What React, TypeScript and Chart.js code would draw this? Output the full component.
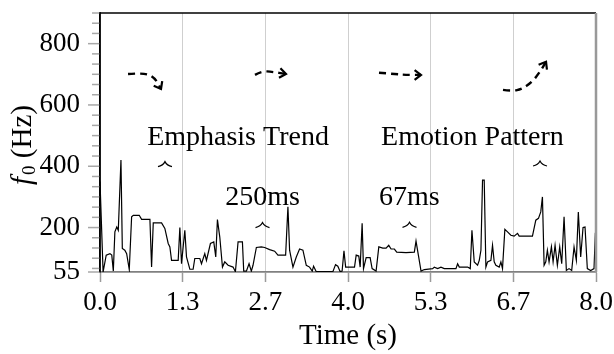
import React, { useEffect, useRef } from 'react';
import { Chart, registerables } from 'chart.js';
Chart.register(...registerables);

// ---- data ----
const timeS = [
  0.00, 0.05, 0.10, 0.16, 0.19, 0.215, 0.24, 0.27, 0.295, 0.338,
  0.36, 0.40, 0.43, 0.472, 0.51, 0.537, 0.633, 0.671, 0.805, 0.832,
  0.859, 0.993, 1.046, 1.100, 1.127, 1.154, 1.261, 1.288, 1.315, 1.368,
  1.395, 1.449, 1.502, 1.529, 1.610, 1.637, 1.690, 1.717, 1.781, 1.835,
  1.867, 1.894, 1.932, 1.975, 2.012, 2.066, 2.146, 2.184, 2.227, 2.297,
  2.318, 2.361, 2.404, 2.441, 2.468, 2.522, 2.602, 2.656, 2.736, 2.817,
  2.870, 2.994, 3.031, 3.058, 3.112, 3.166, 3.219, 3.273, 3.327, 3.380,
  3.423, 3.445, 3.488, 3.756, 3.799, 3.836, 3.874, 3.905, 3.935, 3.962,
  4.105, 4.132, 4.174, 4.196, 4.228, 4.250, 4.293, 4.357, 4.389, 4.453,
  4.497, 4.561, 4.614, 4.657, 4.695, 4.748, 4.786, 4.936, 5.070, 5.097,
  5.135, 5.178, 5.231, 5.365, 5.392, 5.446, 5.499, 5.553, 5.741, 5.768,
  5.795, 5.929, 5.972, 5.999, 6.036, 6.090, 6.117, 6.144, 6.170, 6.197,
  6.224, 6.251, 6.305, 6.331, 6.358, 6.385, 6.439, 6.466, 6.492, 6.530,
  6.573, 6.627, 6.680, 6.734, 6.761, 6.975, 7.029, 7.072, 7.109, 7.136,
  7.163, 7.190, 7.216, 7.243, 7.281, 7.308, 7.340, 7.377, 7.415, 7.447,
  7.485, 7.522, 7.565, 7.608, 7.646, 7.683, 7.715, 7.753, 7.791, 7.823,
  7.860, 7.914, 7.968, 7.990,
];
const f0Hz = [
  350, 55, 110, 115, 110, 58, 186, 202, 191, 420,
  132, 126, 115, 63, 235, 240, 240, 227, 227, 71,
  215, 215, 197, 148, 137, 93, 93, 200, 82, 191,
  104, 64, 64, 99, 99, 82, 115, 93, 148, 153,
  104, 226, 169, 71, 88, 77, 71, 56, 153, 153,
  58, 58, 82, 58, 77, 135, 137, 135, 128, 123,
  110, 110, 268, 126, 71, 104, 130, 126, 77, 71,
  58, 74, 56, 56, 79, 74, 56, 58, 124, 71,
  71, 110, 107, 71, 214, 66, 102, 102, 66, 58,
  137, 133, 133, 142, 130, 130, 120, 118, 120, 156,
  110, 58, 63, 66, 71, 66, 71, 66, 66, 82,
  71, 71, 66, 191, 88, 77, 93, 126, 355, 355,
  71, 88, 93, 142, 88, 77, 71, 88, 66, 194,
  186, 175, 172, 181, 172, 172, 224, 230, 251, 300,
  77, 88, 126, 88, 137, 88, 142, 77, 137, 82,
  235, 60, 66, 60, 137, 93, 251, 104, 200, 202,
  66, 60, 66, 183,
];

const xTickValues = [0, 4 / 3, 8 / 3, 4, 16 / 3, 20 / 3, 8];
const yMajorTicks = [55, 200, 400, 600, 800];
const yMinorTicks = [
  66.67, 100, 133.33, 166.67, 233.33, 266.67, 300, 333.33, 366.67,
  433.33, 466.67, 500, 533.33, 566.67, 633.33, 666.67, 700, 733.33, 766.67,
  833.33, 866.67, 900,
];

const labelTexts = ['Emphasis Trend', 'Emotion Pattern', '250ms', '67ms'];
const labelT = [2.226, 6.008, 2.621, 4.99];
const labelF = [469, 469, 273, 273];

const hatT = [1.048, 2.621, 4.992, 7.097];
const hatF = [407, 208, 209, 409];

const arrow1T = [0.452, 0.726, 0.887, 0.984];
const arrow1F = [701, 705, 688, 652];
const arrow2T = [2.5, 2.613, 2.774, 3.0];
const arrow2F = [698, 711, 708, 701];
const arrow3T = [4.5, 4.758, 4.919, 5.177];
const arrow3F = [705, 701, 698, 698];
const arrow4T = [6.5, 6.645, 6.806, 6.968, 7.097, 7.194];
const arrow4F = [649, 645, 652, 675, 708, 741];
const arrowsT = [arrow1T, arrow2T, arrow3T, arrow4T];
const arrowsF = [arrow1F, arrow2F, arrow3F, arrow4F];

const FONT = '"Liberation Serif", "Times New Roman", serif';

const extrasPlugin = {
  id: 'extras',
  afterDraw(chart: any) {
    const { ctx, chartArea } = chart;
    const xs = chart.scales.x;
    const ys = chart.scales.y;
    const { left, right, top, bottom } = chartArea;
    ctx.save();

    // y ticks (minor + major)
    ctx.strokeStyle = '#a8a8a8';
    ctx.lineWidth = 1.5;
    for (const v of yMinorTicks) {
      const py = ys.getPixelForValue(v);
      ctx.beginPath();
      ctx.moveTo(left - 8, py);
      ctx.lineTo(left, py);
      ctx.stroke();
    }
    for (const v of yMajorTicks) {
      const py = ys.getPixelForValue(v);
      ctx.beginPath();
      ctx.moveTo(left - 12, py);
      ctx.lineTo(left, py);
      ctx.stroke();
    }

    // top and right frame
    ctx.strokeStyle = '#000';
    ctx.lineWidth = 1.5;
    ctx.beginPath();
    ctx.moveTo(left, top);
    ctx.lineTo(right, top);
    ctx.stroke();
    ctx.strokeStyle = '#999';
    ctx.lineWidth = 2.5;
    ctx.beginPath();
    ctx.moveTo(right, top);
    ctx.lineTo(right, bottom);
    ctx.stroke();
    ctx.strokeStyle = '#000';
    ctx.lineWidth = 1.5;
    ctx.beginPath();
    ctx.moveTo(left, top - 0.75);
    ctx.lineTo(left, bottom);
    ctx.stroke();

    // text labels
    ctx.fillStyle = '#000';
    ctx.font = `28px ${FONT}`;
    ctx.textAlign = 'center';
    ctx.textBaseline = 'alphabetic';
    labelTexts.forEach((t, i) => {
      ctx.fillText(t, xs.getPixelForValue(labelT[i]), ys.getPixelForValue(labelF[i]));
    });

    // hats
    ctx.strokeStyle = '#000';
    ctx.lineWidth = 1.2;
    hatT.forEach((t, i) => {
      const cx = xs.getPixelForValue(t);
      const cy = ys.getPixelForValue(hatF[i]);
      ctx.beginPath();
      ctx.moveTo(cx - 7, cy + 2.5);
      ctx.quadraticCurveTo(cx - 2, cy + 1.5, cx, cy - 2.5);
      ctx.quadraticCurveTo(cx + 2, cy + 1.5, cx + 7, cy + 2.5);
      ctx.stroke();
    });

    // dashed arrows
    arrowsT.forEach((ts, k) => {
      const pts = ts.map((t, i) => [xs.getPixelForValue(t), ys.getPixelForValue(arrowsF[k][i])]);
      ctx.strokeStyle = '#000';
      ctx.lineWidth = 2.4;
      ctx.setLineDash([7, 5]);
      ctx.beginPath();
      ctx.moveTo(pts[0][0], pts[0][1]);
      for (let i = 1; i < pts.length - 1; i++) {
        const mx = (pts[i][0] + pts[i + 1][0]) / 2;
        const my = (pts[i][1] + pts[i + 1][1]) / 2;
        ctx.quadraticCurveTo(pts[i][0], pts[i][1], mx, my);
      }
      const n = pts.length;
      ctx.lineTo(pts[n - 1][0], pts[n - 1][1]);
      ctx.stroke();
      ctx.setLineDash([]);
      const [x1, y1] = pts[n - 2];
      const [x2, y2] = pts[n - 1];
      const a = Math.atan2(y2 - y1, x2 - x1);
      const L = 8;
      const w = 0.65;
      ctx.lineWidth = 2.2;
      ctx.beginPath();
      ctx.moveTo(x2 - L * Math.cos(a - w), y2 - L * Math.sin(a - w));
      ctx.lineTo(x2, y2);
      ctx.lineTo(x2 - L * Math.cos(a + w), y2 - L * Math.sin(a + w));
      ctx.stroke();
    });

    // y-axis title: f_0 (Hz)
    ctx.save();
    ctx.translate(31, 145);
    ctx.rotate(-Math.PI / 2);
    ctx.textAlign = 'left';
    ctx.textBaseline = 'alphabetic';
    const fFont = `italic 29px ${FONT}`;
    const subFont = `19px ${FONT}`;
    const mainFont = `29px ${FONT}`;
    ctx.font = fFont;
    const wf = ctx.measureText('f').width;
    ctx.font = subFont;
    const w0 = ctx.measureText('0').width;
    ctx.font = mainFont;
    const wr = ctx.measureText(' (Hz)').width;
    const total = wf + 2 + w0 + wr;
    let cx = -total / 2;
    ctx.font = fFont;
    ctx.fillText('f', cx, 0);
    cx += wf + 2;
    ctx.font = subFont;
    ctx.fillText('0', cx, 4);
    cx += w0;
    ctx.font = mainFont;
    ctx.fillText(' (Hz)', cx, 0);
    ctx.restore();

    ctx.restore();
  },
};

export default function App() {
  const ref = useRef<HTMLCanvasElement>(null);
  useEffect(() => {
    const canvas = ref.current;
    if (!canvas) return;
    const chart = new Chart(canvas, {
      type: 'line',
      data: {
        datasets: [
          {
            data: timeS.map((t, i) => ({ x: t, y: f0Hz[i] })),
            borderColor: '#000',
            borderWidth: 1.2,
            pointRadius: 0,
            tension: 0,
            fill: false,
          },
        ],
      },
      options: {
        animation: false,
        responsive: false,
        layout: { padding: { left: 0, right: 18, top: 13, bottom: 0 } },
        plugins: { legend: { display: false }, tooltip: { enabled: false } },
        scales: {
          x: {
            type: 'linear',
            min: 0,
            max: 8,
            afterBuildTicks: (s: any) => {
              s.ticks = xTickValues.map((v) => ({ value: v }));
            },
            afterFit: (s: any) => {
              s.height = 82;
              s.paddingLeft = 0;
              s.paddingRight = 0;
            },
            ticks: {
              callback: (v: any) => Number(v).toFixed(1),
              color: '#000',
              font: { family: FONT, size: 27 },
              padding: 5,
              autoSkip: false,
              maxRotation: 0,
              minRotation: 0,
            },
            grid: { color: '#cfcfcf', lineWidth: 1, tickLength: 10, tickColor: '#9a9a9a', tickWidth: 1.5 },
            border: { display: true, color: '#808080', width: 1.8 },
            title: {
              display: true,
              text: 'Time (s)',
              color: '#000',
              font: { family: FONT, size: 29 },
              padding: { top: 0, bottom: 0 },
            },
          },
          y: {
            type: 'linear',
            min: 55,
            max: 900,
            afterBuildTicks: (s: any) => {
              s.ticks = yMajorTicks.map((v) => ({ value: v }));
            },
            afterFit: (s: any) => {
              s.width = 100;
              s.paddingTop = 0;
              s.paddingBottom = 0;
            },
            ticks: {
              callback: (v: any) => String(v),
              color: '#000',
              font: { family: FONT, size: 27 },
              padding: 20,
              autoSkip: false,
            },
            grid: { display: false, drawTicks: false },
            border: { display: true, color: '#000', width: 1.5 },
          },
        },
      } as any,
      plugins: [extrasPlugin],
    });
    return () => chart.destroy();
  }, []);
  return (
    <div style={{ position: 'fixed', left: 0, top: 0, width: 614, height: 354, background: '#fff' }}>
      <canvas ref={ref} width={614} height={354} style={{ display: 'block' }} />
    </div>
  );
}
